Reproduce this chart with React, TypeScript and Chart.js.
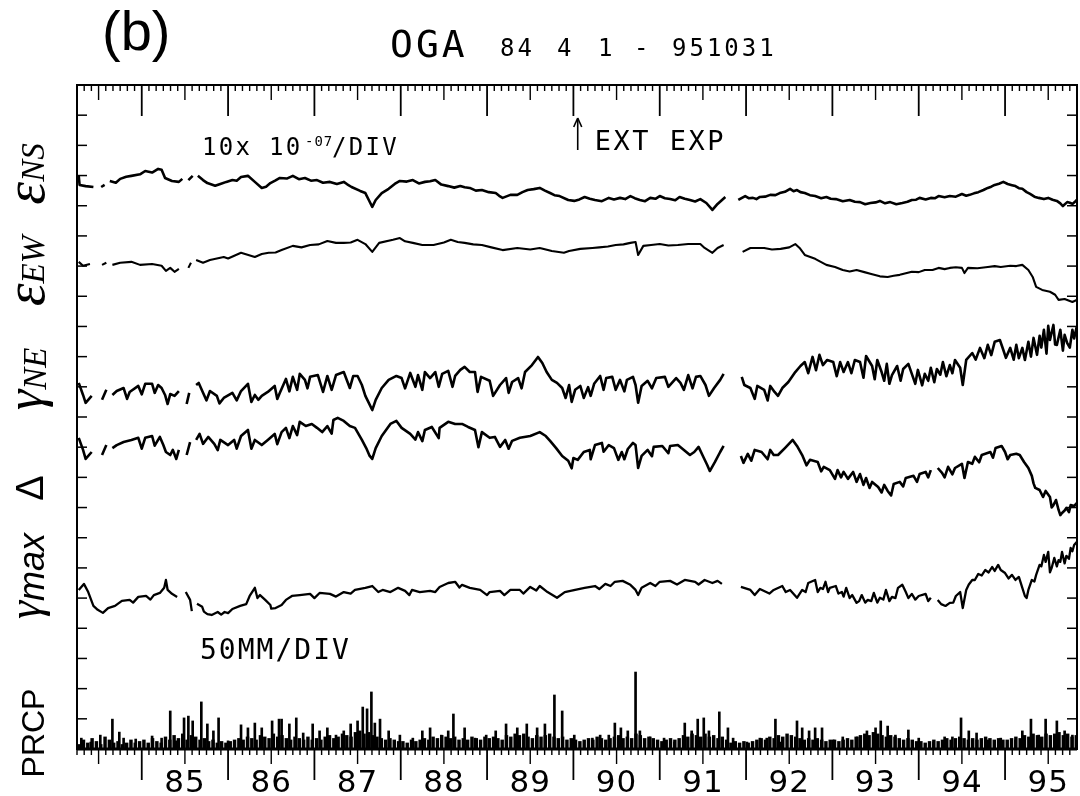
import React, { useEffect, useRef } from 'react';
import { Chart, registerables } from 'chart.js';

Chart.register(...registerables);

type P = [number, number | null];

// Time axis: 1984-04-01 .. 1995-10-31 (decimal years)
const X_START = 1984.25;
const X_END = 1995.8333;
// Vertical axis: 22 divisions
const DIV_COUNT = 22;

const yearLabels = ['85', '86', '87', '88', '89', '90', '91', '92', '93', '94', '95'];

const titleStation = 'OGA';
const titleParts = ['84', '4', '1', '-', '951031'];
const strainScaleLabel = ['10x 10', '-07', '/DIV'];
const rainScaleLabel = '50MM/DIV';
const eventLabel = 'EXT EXP';
const eventYear = 1990.05;

// eps_NS (divisions)
const epsNS: P[] = [
  [1984.27, 18.99], [1984.28, 18.69], [1984.35, 18.65], [1984.44, 18.62], [1984.48, null],
  [1984.53, 18.62], [1984.57, 18.69], [1984.6, null],
  [1984.63, 18.82], [1984.75, 18.89], [1984.88, 18.99], [1985.04, 19.15], [1985.19, 19.22], [1985.23, 19.19],
  [1985.27, 18.92], [1985.35, 18.82], [1985.43, 18.79], [1985.47, 18.89], [1985.5, null],
  [1985.54, 18.85], [1985.59, 18.99], [1985.62, null],
  [1985.65, 18.99], [1985.71, 18.85], [1985.76, 18.75], [1985.91, 18.72], [1986.05, 18.85], [1986.15, 18.95],
  [1986.23, 18.99], [1986.31, 18.79], [1986.39, 18.59], [1986.49, 18.75], [1986.6, 18.92], [1986.75, 18.99],
  [1986.89, 18.92], [1987.03, 18.85], [1987.18, 18.79], [1987.34, 18.79], [1987.43, 18.62], [1987.53, 18.49],
  [1987.59, 18.42], [1987.63, 18.19], [1987.67, 17.96], [1987.71, 18.19], [1987.78, 18.42], [1987.86, 18.56],
  [1987.93, 18.72], [1987.99, 18.82], [1988.14, 18.85], [1988.28, 18.79], [1988.4, 18.85], [1988.55, 18.65],
  [1988.69, 18.65], [1988.8, 18.59], [1988.94, 18.52], [1989.1, 18.42], [1989.18, 18.26], [1989.27, 18.36],
  [1989.35, 18.36], [1989.47, 18.52], [1989.61, 18.59], [1989.73, 18.42], [1989.84, 18.32], [1989.94, 18.19],
  [1990.01, 18.16], [1990.13, 18.29], [1990.25, 18.19], [1990.41, 18.26], [1990.54, 18.26], [1990.66, 18.32],
  [1990.77, 18.19], [1990.89, 18.26], [1991.0, 18.32], [1991.12, 18.22], [1991.23, 18.29], [1991.35, 18.19],
  [1991.47, 18.22], [1991.54, 18.09], [1991.61, 17.86], [1991.67, 18.06], [1991.76, 18.29], [1991.83, null],
  [1991.91, 18.19], [1991.99, 18.32], [1992.08, 18.26], [1992.16, 18.29], [1992.28, 18.36], [1992.39, 18.42],
  [1992.51, 18.56], [1992.59, 18.52], [1992.68, 18.42], [1992.8, 18.32], [1992.93, 18.29], [1993.04, 18.22],
  [1993.2, 18.19], [1993.32, 18.12], [1993.44, 18.09], [1993.55, 18.16], [1993.67, 18.12], [1993.81, 18.09],
  [1993.92, 18.19], [1994.01, 18.26], [1994.14, 18.26], [1994.23, 18.32], [1994.36, 18.32], [1994.5, 18.39],
  [1994.59, 18.36], [1994.69, 18.45], [1994.8, 18.59], [1994.88, 18.69], [1994.98, 18.79], [1995.03, 18.72],
  [1995.12, 18.65], [1995.2, 18.56], [1995.29, 18.39], [1995.39, 18.26], [1995.5, 18.26], [1995.6, 18.16],
  [1995.67, 17.99], [1995.72, 18.12], [1995.78, 18.06], [1995.83, 18.19],
];
// eps_NS small-scale wiggles between the main readings
const epsNSDetail: P[] = [
  [1984.7, 18.76], [1984.82, 18.96], [1984.98, 19.04], [1985.12, 19.1], [1985.85, 18.66], [1985.98, 18.79],
  [1986.1, 18.83], [1986.44, 18.63], [1986.55, 18.84], [1986.68, 18.9], [1986.82, 18.88], [1986.96, 18.83],
  [1987.1, 18.76], [1987.26, 18.72], [1987.38, 18.71], [1988.07, 18.8], [1988.21, 18.74], [1988.34, 18.81],
  [1988.47, 18.7], [1988.62, 18.6], [1988.74, 18.61], [1988.87, 18.5], [1989.02, 18.45], [1989.14, 18.33],
  [1989.41, 18.45], [1989.54, 18.55], [1989.67, 18.5], [1989.78, 18.35], [1990.07, 18.21], [1990.19, 18.23],
  [1990.33, 18.15], [1990.47, 18.21], [1990.6, 18.22], [1990.71, 18.25], [1990.83, 18.15], [1990.95, 18.23],
  [1991.06, 18.25], [1991.18, 18.18], [1991.29, 18.23], [1991.41, 18.14], [1992.03, 18.25], [1992.12, 18.22],
  [1992.22, 18.3], [1992.34, 18.35], [1992.45, 18.46], [1992.55, 18.48], [1992.63, 18.45], [1992.74, 18.35],
  [1992.87, 18.25], [1992.98, 18.23], [1993.12, 18.15], [1993.26, 18.13], [1993.38, 18.05], [1993.5, 18.11],
  [1993.61, 18.08], [1993.74, 18.05], [1993.87, 18.13], [1993.97, 18.2], [1994.08, 18.21], [1994.19, 18.25],
  [1994.3, 18.28], [1994.43, 18.3], [1994.55, 18.33], [1994.64, 18.41], [1994.75, 18.52], [1994.84, 18.63],
  [1994.93, 18.73], [1995.08, 18.68], [1995.16, 18.58], [1995.25, 18.45], [1995.34, 18.3], [1995.45, 18.22],
  [1995.55, 18.2], [1995.64, 18.08], [1995.75, 18.1], [1995.81, 18.13],
];

// eps_EW (divisions)
const epsEW: P[] = [
  [1984.27, 16.14], [1984.32, 16.01], [1984.4, 16.07], [1984.45, null],
  [1984.54, 16.04], [1984.59, 16.11], [1984.61, null],
  [1984.66, 16.04], [1984.75, 16.11], [1984.88, 16.14], [1984.98, 16.04], [1985.12, 16.07], [1985.23, 16.01],
  [1985.28, 15.84], [1985.33, 15.94], [1985.38, 15.81], [1985.43, 15.91], [1985.47, null],
  [1985.54, 15.94], [1985.57, 16.11], [1985.6, null],
  [1985.63, 16.2], [1985.71, 16.11], [1985.79, 16.2], [1985.95, 16.3], [1986.15, 16.44], [1986.31, 16.3],
  [1986.39, 16.4], [1986.47, 16.44], [1986.62, 16.53], [1986.75, 16.67], [1986.95, 16.7], [1987.15, 16.83],
  [1987.25, 16.77], [1987.34, 16.77], [1987.5, 16.87], [1987.59, 16.73], [1987.67, 16.47], [1987.75, 16.77],
  [1987.91, 16.87], [1987.99, 16.93], [1988.14, 16.77], [1988.38, 16.7], [1988.58, 16.87], [1988.74, 16.77],
  [1988.94, 16.7], [1989.18, 16.53], [1989.35, 16.6], [1989.61, 16.6], [1989.75, 16.5], [1989.89, 16.44],
  [1990.08, 16.57], [1990.22, 16.6], [1990.49, 16.7], [1990.66, 16.77], [1990.72, 16.8], [1990.75, 16.37],
  [1990.81, 16.67], [1991.0, 16.73], [1991.21, 16.7], [1991.47, 16.73], [1991.52, 16.6], [1991.61, 16.44],
  [1991.67, 16.6], [1991.74, 16.7], [1991.83, null],
  [1991.96, 16.47], [1992.05, 16.6], [1992.21, 16.6], [1992.4, 16.57], [1992.57, 16.73], [1992.62, 16.6],
  [1992.68, 16.37], [1992.8, 16.24], [1992.93, 16.04], [1993.03, 15.97], [1993.12, 15.87], [1993.28, 15.87],
  [1993.45, 15.74], [1993.64, 15.64], [1993.78, 15.71], [1993.92, 15.81], [1994.07, 15.87], [1994.16, 15.87],
  [1994.23, 15.94], [1994.36, 15.94], [1994.5, 15.94], [1994.53, 15.77], [1994.57, 15.94], [1994.8, 15.97],
  [1994.95, 15.97], [1995.06, 16.01], [1995.2, 16.04], [1995.27, 15.87], [1995.32, 15.64], [1995.36, 15.31],
  [1995.43, 15.21], [1995.52, 15.15], [1995.58, 15.05], [1995.62, 14.88], [1995.69, 14.91], [1995.78, 14.81],
  [1995.83, 14.88],
];
const epsEWDetail: P[] = [
  [1986.0, 16.25], [1986.55, 16.45], [1986.85, 16.62], [1987.05, 16.72], [1987.42, 16.78], [1988.05, 16.82],
  [1988.25, 16.7], [1988.5, 16.78], [1988.66, 16.8], [1988.84, 16.72], [1989.05, 16.62], [1989.5, 16.55],
  [1989.95, 16.5], [1990.3, 16.62], [1990.4, 16.65], [1990.58, 16.72], [1990.9, 16.7], [1991.1, 16.68],
  [1991.33, 16.73], [1992.3, 16.55], [1992.5, 16.62], [1993.2, 15.82], [1993.37, 15.8], [1993.55, 15.66],
  [1993.71, 15.68], [1993.85, 15.76], [1994.0, 15.8], [1994.3, 15.9], [1994.43, 15.96], [1994.68, 15.93],
  [1994.88, 16.0], [1995.13, 16.0],
];

// gamma_NE (divisions)
const gammaNE: P[] = [
  [1984.27, 12.13], [1984.32, 11.73], [1984.35, 11.47], [1984.42, 11.7], [1984.46, null],
  [1984.54, 11.57], [1984.59, 11.9], [1984.61, null],
  [1984.66, 11.73], [1984.71, 11.86], [1984.79, 11.96], [1984.86, 11.83], [1984.96, 12.03], [1985.04, 12.1],
  [1985.12, 12.1], [1985.19, 12.06], [1985.23, 11.96], [1985.27, 11.73], [1985.3, 11.43], [1985.33, 11.76],
  [1985.38, 11.7], [1985.43, 11.86], [1985.47, null],
  [1985.52, 11.43], [1985.55, 11.8], [1985.57, null],
  [1985.63, 12.06], [1985.66, 12.13], [1985.71, 11.8], [1985.79, 11.86], [1985.87, 11.7], [1985.95, 11.63],
  [1986.05, 11.8], [1986.15, 11.86], [1986.23, 12.1], [1986.31, 11.73], [1986.35, 11.57], [1986.39, 11.7],
  [1986.46, 11.83], [1986.54, 12.03], [1986.6, 11.8], [1986.67, 12.26], [1986.75, 12.33], [1986.83, 12.43],
  [1986.89, 12.23], [1986.95, 12.33], [1987.04, 12.39], [1987.1, 11.83], [1987.15, 12.36], [1987.25, 12.39],
  [1987.34, 12.49], [1987.41, 11.96], [1987.45, 12.36], [1987.5, 12.36], [1987.55, 12.06], [1987.59, 11.7],
  [1987.63, 11.47], [1987.67, 11.23], [1987.71, 11.57], [1987.78, 11.96], [1987.86, 12.23], [1987.95, 12.36],
  [1988.01, 12.29], [1988.11, 12.46], [1988.2, 12.39], [1988.28, 12.49], [1988.34, 12.29], [1988.4, 12.49],
  [1988.48, 12.43], [1988.55, 12.53], [1988.63, 12.36], [1988.69, 12.56], [1988.74, 12.66], [1988.8, 12.49],
  [1988.86, 12.49], [1988.89, 11.83], [1988.93, 12.33], [1989.03, 12.2], [1989.15, 12.06], [1989.22, 12.29],
  [1989.29, 12.16], [1989.36, 12.29], [1989.44, 12.49], [1989.52, 12.72], [1989.59, 12.99], [1989.64, 12.79],
  [1989.69, 12.49], [1989.75, 12.23], [1989.81, 12.13], [1989.87, 11.96], [1989.91, 11.63], [1989.95, 12.06],
  [1990.02, 11.9], [1990.08, 12.03], [1990.12, 11.63], [1990.17, 11.99], [1990.24, 12.1], [1990.31, 12.36],
  [1990.38, 12.29], [1990.45, 12.33], [1990.49, 11.9], [1990.54, 12.23], [1990.62, 12.23], [1990.69, 12.33],
  [1990.72, 12.06], [1990.75, 11.47], [1990.79, 12.03], [1990.86, 12.2], [1990.96, 12.29], [1991.06, 12.33],
  [1991.19, 12.29], [1991.24, 12.13], [1991.33, 12.39], [1991.42, 12.33], [1991.47, 12.36], [1991.53, 12.06],
  [1991.57, 11.7], [1991.63, 11.96], [1991.7, 12.23], [1991.74, 12.43], [1991.82, null],
  [1991.95, 12.33], [1991.98, 12.06], [1992.05, 11.96], [1992.13, 12.03], [1992.21, 11.9], [1992.28, 12.03],
  [1992.33, 11.83], [1992.37, 11.7], [1992.42, 11.96], [1992.49, 12.16], [1992.57, 12.49], [1992.63, 12.69],
  [1992.68, 12.82], [1992.77, 12.99], [1992.85, 13.06], [1992.89, 12.72], [1992.94, 12.89], [1993.01, 12.82],
  [1993.09, 12.82], [1993.13, 12.49], [1993.18, 12.82], [1993.26, 12.89], [1993.32, 12.82], [1993.39, 13.02],
  [1993.46, 12.69], [1993.52, 12.89], [1993.57, 12.49], [1993.63, 12.76], [1993.69, 12.39], [1993.75, 12.69],
  [1993.82, 12.59], [1993.88, 12.76], [1993.92, 12.43], [1993.99, 12.56], [1994.07, 12.43], [1994.14, 12.63],
  [1994.21, 12.59], [1994.28, 12.82], [1994.36, 12.72], [1994.42, 12.89], [1994.48, 12.63], [1994.51, 12.06],
  [1994.55, 12.89], [1994.62, 13.12], [1994.71, 13.29], [1994.8, 13.39], [1994.88, 13.49], [1994.94, 13.55],
  [1994.98, 13.22], [1995.01, 12.96], [1995.06, 13.29], [1995.13, 13.39], [1995.2, 13.29], [1995.23, 12.89],
  [1995.27, 13.49], [1995.33, 13.62], [1995.37, 13.06], [1995.4, 13.69], [1995.45, 13.89], [1995.5, 14.02],
  [1995.52, 13.55], [1995.56, 14.05], [1995.6, 13.39], [1995.64, 13.89], [1995.69, 13.72], [1995.72, 13.45],
  [1995.78, 13.89], [1995.83, 13.99],
];
// gamma_NE short downward spikes (tips)
const gammaNESpikes: P[] = [
  [1984.83, 11.6], [1985.0, 11.75], [1985.15, 11.8], [1985.75, 11.55], [1985.9, 11.45], [1986.1, 11.55],
  [1986.27, 11.5], [1986.57, 11.6], [1986.71, 11.85], [1986.8, 11.9], [1986.92, 11.95], [1987.2, 11.9],
  [1988.05, 11.95], [1988.17, 12.0], [1988.25, 11.9], [1988.44, 12.0], [1988.6, 12.0], [1989.07, 11.7],
  [1989.25, 11.8], [1989.4, 11.95], [1989.98, 11.5], [1990.2, 11.7], [1990.35, 11.9], [1990.59, 11.85],
  [1990.91, 11.95], [1991.1, 12.0], [1991.28, 11.9], [1991.38, 11.95], [1992.1, 11.6], [1992.25, 11.55],
  [1992.72, 12.45], [1992.81, 12.55], [1993.05, 12.35], [1993.22, 12.45], [1993.36, 12.3], [1993.49, 12.25],
  [1993.6, 12.2], [1993.66, 12.1], [1993.79, 12.2], [1993.96, 12.1], [1994.04, 12.05], [1994.11, 12.2],
  [1994.18, 12.15], [1994.25, 12.4], [1994.32, 12.35], [1994.39, 12.45], [1994.66, 12.9], [1994.76, 12.95],
  [1994.84, 13.05], [1995.1, 12.9], [1995.16, 12.95], [1995.3, 13.0], [1995.42, 13.3], [1995.48, 13.1],
  [1995.58, 13.4], [1995.67, 13.2], [1995.75, 13.3], [1995.8, 13.6],
];

// Delta (divisions)
const delta: P[] = [
  [1984.27, 10.31], [1984.32, 9.91], [1984.35, 9.61], [1984.42, 9.84], [1984.46, null],
  [1984.54, 9.74], [1984.59, 10.07], [1984.61, null],
  [1984.66, 9.97], [1984.71, 10.07], [1984.79, 10.17], [1984.88, 10.24], [1984.96, 10.31], [1985.04, 10.31],
  [1985.12, 10.37], [1985.21, 10.34], [1985.25, 10.07], [1985.28, 9.84], [1985.33, 9.74], [1985.36, 9.91],
  [1985.4, 9.61], [1985.43, 9.91], [1985.47, null],
  [1985.52, 9.74], [1985.56, 10.17], [1985.58, null],
  [1985.63, 10.24], [1985.67, 10.44], [1985.71, 10.11], [1985.77, 10.34], [1985.84, 10.11], [1985.91, 10.24],
  [1986.0, 10.07], [1986.07, 10.24], [1986.15, 10.37], [1986.23, 10.57], [1986.31, 10.24], [1986.39, 10.07],
  [1986.46, 10.24], [1986.54, 10.44], [1986.62, 10.5], [1986.67, 10.64], [1986.75, 10.7], [1986.83, 10.84],
  [1986.9, 10.7], [1986.97, 10.77], [1987.03, 10.64], [1987.09, 10.5], [1987.15, 10.7], [1987.22, 10.9],
  [1987.27, 10.97], [1987.34, 10.87], [1987.41, 10.7], [1987.47, 10.64], [1987.55, 10.24], [1987.6, 9.97],
  [1987.64, 9.71], [1987.67, 9.61], [1987.71, 9.97], [1987.78, 10.37], [1987.88, 10.77], [1987.95, 10.87],
  [1988.01, 10.64], [1988.11, 10.44], [1988.2, 10.5], [1988.28, 10.57], [1988.36, 10.67], [1988.45, 10.64],
  [1988.55, 10.84], [1988.63, 10.77], [1988.71, 10.77], [1988.78, 10.67], [1988.86, 10.57], [1988.94, 10.5],
  [1989.03, 10.31], [1989.09, 10.34], [1989.15, 10.01], [1989.21, 10.24], [1989.29, 10.21], [1989.38, 10.31],
  [1989.5, 10.37], [1989.61, 10.5], [1989.68, 10.37], [1989.73, 10.21], [1989.8, 9.97], [1989.87, 9.71],
  [1989.94, 9.55], [1990.0, 9.64], [1990.05, 9.58], [1990.12, 9.84], [1990.19, 9.91], [1990.25, 10.07],
  [1990.33, 10.14], [1990.41, 10.07], [1990.47, 9.97], [1990.52, 9.58], [1990.56, 9.84], [1990.63, 9.94],
  [1990.69, 10.14], [1990.72, 10.07], [1990.75, 9.31], [1990.79, 9.71], [1990.86, 9.91], [1990.93, 10.01],
  [1991.03, 10.04], [1991.12, 10.04], [1991.21, 10.07], [1991.28, 9.91], [1991.35, 9.74], [1991.4, 9.84],
  [1991.45, 10.01], [1991.5, 9.71], [1991.55, 9.41], [1991.58, 9.21], [1991.64, 9.51], [1991.7, 9.84],
  [1991.74, 10.04], [1991.82, null],
  [1991.94, 9.71], [1991.97, 9.48], [1992.02, 9.78], [1992.1, 9.91], [1992.18, 9.84], [1992.28, 9.91],
  [1992.32, 9.74], [1992.37, 9.74], [1992.45, 9.97], [1992.54, 10.24], [1992.59, 10.04], [1992.65, 9.74],
  [1992.74, 9.58], [1992.83, 9.51], [1992.9, 9.35], [1992.97, 9.24], [1993.06, 9.24], [1993.13, 9.18],
  [1993.18, 8.95], [1993.24, 9.18], [1993.32, 9.11], [1993.39, 8.98], [1993.46, 8.85], [1993.53, 8.68],
  [1993.6, 8.75], [1993.64, 8.55], [1993.71, 8.78], [1993.78, 8.85], [1993.85, 8.98], [1993.94, 9.05],
  [1994.01, 9.11], [1994.08, 9.18], [1994.14, 9.24], [1994.18, null],
  [1994.22, 9.31], [1994.27, 9.15], [1994.34, 9.35], [1994.42, 9.31], [1994.5, 9.45], [1994.53, 8.98],
  [1994.57, 9.51], [1994.65, 9.68], [1994.73, 9.74], [1994.83, 9.84], [1994.89, 9.97], [1994.96, 10.04],
  [1995.0, 9.84], [1995.06, 9.74], [1995.13, 9.78], [1995.17, 9.74], [1995.22, 9.51], [1995.27, 9.31],
  [1995.31, 9.05], [1995.35, 8.65], [1995.4, 8.58], [1995.47, 8.55], [1995.52, 8.35], [1995.56, 8.08],
  [1995.59, 8.25], [1995.62, 7.92], [1995.66, 7.82], [1995.71, 7.99], [1995.76, 8.08], [1995.8, 8.05],
  [1995.83, 8.15],
];
const deltaSpikes: P[] = [
  [1985.0, 9.95], [1985.15, 10.05], [1985.88, 9.9], [1986.1, 9.95], [1986.27, 9.95], [1986.57, 10.1],
  [1986.71, 10.3], [1986.8, 10.4], [1987.2, 10.45], [1988.17, 10.25], [1988.25, 10.2], [1988.44, 10.3],
  [1988.9, 10.0], [1989.25, 9.95], [1989.98, 9.3], [1990.2, 9.6], [1990.35, 9.85], [1990.59, 9.6],
  [1990.91, 9.7], [1991.1, 9.8], [1992.06, 9.55], [1992.25, 9.6], [1992.7, 9.4], [1992.87, 9.2],
  [1993.03, 8.95], [1993.1, 9.0], [1993.28, 8.85], [1993.36, 8.75], [1993.43, 8.65], [1993.57, 8.5],
  [1993.68, 8.4], [1993.82, 8.7], [1993.98, 8.85], [1994.11, 9.0], [1994.3, 9.0], [1994.39, 9.1],
  [1994.62, 9.45], [1994.7, 9.5], [1994.86, 9.65], [1995.03, 9.6], [1995.33, 8.8], [1995.44, 8.35],
  [1995.54, 8.0], [1995.64, 7.75], [1995.69, 7.9], [1995.74, 7.85],
];

// gamma_max (divisions)
const gammaMax: P[] = [
  [1984.27, 5.27], [1984.33, 5.47], [1984.38, 5.2], [1984.44, 4.74], [1984.49, 4.61], [1984.55, 4.51],
  [1984.61, 4.67], [1984.69, 4.74], [1984.77, 4.91], [1984.86, 4.94], [1984.96, 5.04], [1985.05, 5.07],
  [1985.14, 5.1], [1985.21, 5.17], [1985.26, 5.34], [1985.28, 5.6], [1985.3, 5.27], [1985.35, 5.14],
  [1985.41, 5.04], [1985.45, null],
  [1985.51, 5.2], [1985.56, 4.94], [1985.58, 4.57], [1985.6, null],
  [1985.64, 4.81], [1985.7, 4.71], [1985.76, 4.47], [1985.81, 4.44], [1985.88, 4.54], [1985.96, 4.54],
  [1986.05, 4.64], [1986.14, 4.74], [1986.21, 4.8], [1986.25, 5.07], [1986.31, 5.34], [1986.37, 5.1],
  [1986.43, 4.94], [1986.49, 4.77], [1986.55, 4.67], [1986.62, 4.77], [1986.67, 4.94], [1986.74, 5.07],
  [1986.83, 5.1], [1986.95, 5.14], [1987.06, 5.17], [1987.18, 5.14], [1987.34, 5.2], [1987.47, 5.27],
  [1987.59, 5.34], [1987.67, 5.4], [1987.74, 5.2], [1987.79, 5.27], [1987.88, 5.2], [1987.97, 5.34],
  [1988.05, 5.24], [1988.13, 5.27], [1988.22, 5.2], [1988.34, 5.24], [1988.45, 5.37], [1988.55, 5.5],
  [1988.63, 5.54], [1988.71, 5.44], [1988.8, 5.34], [1988.92, 5.27], [1989.03, 5.2], [1989.15, 5.24],
  [1989.27, 5.27], [1989.38, 5.27], [1989.5, 5.37], [1989.61, 5.4], [1989.7, 5.2], [1989.81, 5.01],
  [1989.9, 5.2], [1990.02, 5.27], [1990.13, 5.34], [1990.25, 5.4], [1990.37, 5.47], [1990.48, 5.54],
  [1990.57, 5.57], [1990.66, 5.44], [1990.72, 5.27], [1990.75, 5.1], [1990.79, 5.34], [1990.89, 5.5],
  [1991.0, 5.54], [1991.12, 5.57], [1991.29, 5.6], [1991.41, 5.54], [1991.52, 5.6], [1991.61, 5.5],
  [1991.67, 5.57], [1991.72, 5.47], [1991.82, null],
  [1991.94, 5.37], [1992.05, 5.27], [1992.16, 5.3], [1992.32, 5.27], [1992.42, 5.4], [1992.51, 5.27],
  [1992.59, 5.01], [1992.65, 5.27], [1992.72, 5.5], [1992.8, 5.6], [1992.86, 5.34], [1992.92, 5.54],
  [1992.97, 5.34], [1993.04, 5.4], [1993.11, 5.2], [1993.16, 5.34], [1993.23, 5.1], [1993.28, 4.84],
  [1993.34, 5.1], [1993.41, 4.94], [1993.48, 5.17], [1993.55, 5.01], [1993.62, 5.27], [1993.69, 5.04],
  [1993.76, 5.34], [1993.81, 5.44], [1993.85, 5.2], [1993.92, 5.14], [1994.0, 5.07], [1994.08, 5.14],
  [1994.14, 5.01], [1994.18, null],
  [1994.22, 4.94], [1994.31, 4.74], [1994.36, 4.84], [1994.43, 5.07], [1994.48, 5.2], [1994.51, 4.67],
  [1994.55, 5.27], [1994.62, 5.6], [1994.69, 5.8], [1994.77, 5.93], [1994.85, 6.03], [1994.92, 6.1],
  [1994.95, 5.93], [1995.0, 5.83], [1995.08, 5.77], [1995.16, 5.7], [1995.2, 5.34], [1995.23, 5.07],
  [1995.27, 5.27], [1995.31, 5.6], [1995.36, 5.77], [1995.4, 6.1], [1995.45, 6.43], [1995.5, 6.53],
  [1995.54, 6.0], [1995.57, 6.33], [1995.62, 6.26], [1995.66, 6.53], [1995.71, 6.4], [1995.76, 6.66],
  [1995.8, 6.76], [1995.83, 6.86],
];
const gammaMaxSpikes: P[] = [
  [1984.9, 4.85], [1985.1, 4.95], [1985.72, 4.55], [1985.92, 4.45], [1986.0, 4.5], [1986.34, 5.0],
  [1986.5, 4.65], [1987.0, 5.0], [1987.25, 5.05], [1987.42, 5.15], [1988.1, 5.1], [1988.4, 5.2],
  [1988.68, 5.35], [1989.0, 5.1], [1989.2, 5.1], [1989.42, 5.15], [1989.57, 5.25], [1990.3, 5.3],
  [1990.43, 5.4], [1990.95, 5.4], [1991.2, 5.45], [1991.45, 5.45], [1992.1, 5.1], [1992.27, 5.15],
  [1992.46, 5.2], [1992.69, 5.2], [1992.83, 5.2], [1992.89, 5.3], [1992.95, 5.2], [1993.07, 5.15],
  [1993.13, 5.05], [1993.2, 5.0], [1993.31, 4.9], [1993.38, 4.85], [1993.45, 4.9], [1993.52, 4.85],
  [1993.59, 4.95], [1993.66, 4.9], [1993.73, 5.0], [1993.88, 5.0], [1993.96, 4.95], [1994.11, 4.9],
  [1994.26, 4.8], [1994.4, 4.85], [1994.58, 5.45], [1994.65, 5.6], [1994.73, 5.75], [1994.81, 5.85],
  [1994.88, 5.9], [1995.04, 5.65], [1995.12, 5.6], [1995.25, 5.0], [1995.34, 5.55], [1995.42, 6.05],
  [1995.47, 6.2], [1995.52, 5.85], [1995.6, 6.05], [1995.64, 6.2], [1995.69, 6.15], [1995.74, 6.3],
  [1995.78, 6.55],
];

// Precipitation: larger rain events (divisions of 50 mm)
const prcpEvents: P[] = [
  [1984.3, 0.36], [1984.41, 0.23], [1984.52, 0.46], [1984.66, 0.99], [1984.74, 0.56], [1984.79, 0.36],
  [1984.93, 0.33], [1985.12, 0.43], [1985.23, 0.36], [1985.33, 1.26], [1985.4, 0.27], [1985.49, 1.03],
  [1985.54, 1.09], [1985.59, 0.93], [1985.69, 1.56], [1985.76, 0.83], [1985.83, 0.6], [1985.89, 1.03],
  [1986.0, 0.27], [1986.15, 0.8], [1986.23, 0.7], [1986.31, 0.86], [1986.39, 0.7], [1986.51, 0.93],
  [1986.59, 0.99], [1986.62, 0.99], [1986.71, 0.83], [1986.79, 1.03], [1986.87, 0.53], [1986.98, 0.83],
  [1987.06, 0.6], [1987.15, 0.7], [1987.25, 0.46], [1987.34, 0.6], [1987.42, 0.83], [1987.5, 0.93],
  [1987.56, 1.39], [1987.61, 1.33], [1987.66, 1.89], [1987.7, 0.86], [1987.76, 0.99], [1987.86, 0.6],
  [1987.99, 0.46], [1988.14, 0.36], [1988.25, 0.6], [1988.34, 0.7], [1988.47, 0.46], [1988.55, 0.6],
  [1988.61, 1.16], [1988.74, 0.7], [1988.86, 0.36], [1988.99, 0.46], [1989.1, 0.6], [1989.22, 0.83],
  [1989.35, 0.7], [1989.46, 0.83], [1989.58, 0.7], [1989.67, 0.83], [1989.78, 1.79], [1989.87, 1.26],
  [1990.01, 0.46], [1990.22, 0.36], [1990.31, 0.46], [1990.41, 0.46], [1990.48, 0.86], [1990.55, 0.7],
  [1990.63, 0.6], [1990.72, 2.55], [1990.77, 0.6], [1990.89, 0.4], [1991.05, 0.36], [1991.17, 0.23],
  [1991.29, 0.86], [1991.37, 0.6], [1991.44, 0.99], [1991.51, 1.03], [1991.57, 0.6], [1991.69, 1.23],
  [1991.79, 0.7], [1991.85, 0.36], [1992.01, 0.23], [1992.16, 0.36], [1992.24, 0.36], [1992.34, 0.99],
  [1992.4, 0.23], [1992.59, 0.93], [1992.65, 0.7], [1992.73, 0.6], [1992.8, 0.7], [1992.88, 0.7],
  [1993.01, 0.3], [1993.12, 0.4], [1993.29, 0.4], [1993.4, 0.6], [1993.5, 0.7], [1993.56, 0.93],
  [1993.64, 0.76], [1993.73, 0.46], [1993.88, 0.63], [1994.0, 0.36], [1994.17, 0.23], [1994.3, 0.4],
  [1994.39, 0.4], [1994.49, 1.03], [1994.58, 0.6], [1994.67, 0.53], [1994.8, 0.3], [1994.95, 0.36],
  [1995.12, 0.3], [1995.2, 0.6], [1995.3, 0.99], [1995.39, 0.46], [1995.47, 0.99], [1995.6, 0.93],
  [1995.69, 0.6], [1995.78, 0.46],
];

// Precipitation: background of small daily totals, one value every 0.05 yr from 1984.275
const prcpBackgroundStart = 1984.275;
const prcpBackgroundStep = 0.05;
const prcpBackground: number[] = [
  0.15, 0.3, 0.2, 0.35, 0.25, 0.15, 0.4, 0.3, 0.2, 0.25, 0.15, 0.2, 0.3, 0.2, 0.25,
  0.3, 0.2, 0.35, 0.25, 0.2, 0.4, 0.3, 0.45, 0.35, 0.5, 0.3, 0.45, 0.4, 0.3, 0.35, 0.25, 0.3, 0.2, 0.25, 0.2,
  0.25, 0.3, 0.35, 0.3, 0.4, 0.35, 0.3, 0.45, 0.4, 0.35, 0.5, 0.4, 0.45, 0.35, 0.3, 0.4, 0.35, 0.3, 0.4, 0.3,
  0.35, 0.3, 0.4, 0.45, 0.35, 0.4, 0.5, 0.45, 0.4, 0.55, 0.6, 0.5, 0.55, 0.45, 0.4, 0.35, 0.3, 0.35, 0.3, 0.25,
  0.25, 0.2, 0.3, 0.25, 0.3, 0.35, 0.3, 0.4, 0.35, 0.45, 0.4, 0.35, 0.4, 0.3, 0.35, 0.3, 0.4, 0.35, 0.3, 0.4,
  0.35, 0.4, 0.35, 0.3, 0.45, 0.4, 0.5, 0.45, 0.5, 0.4, 0.35, 0.45, 0.4, 0.45, 0.5, 0.4, 0.35, 0.4, 0.3, 0.35,
  0.3, 0.25, 0.3, 0.35, 0.3, 0.4, 0.35, 0.3, 0.35, 0.4, 0.45, 0.35, 0.4, 0.35, 0.5, 0.45, 0.35, 0.4, 0.35, 0.3,
  0.25, 0.3, 0.35, 0.3, 0.35, 0.45, 0.4, 0.5, 0.45, 0.4, 0.5, 0.4, 0.45, 0.35, 0.4, 0.3, 0.2, 0.25, 0.2, 0.25,
  0.2, 0.25, 0.3, 0.35, 0.3, 0.4, 0.35, 0.45, 0.4, 0.5, 0.45, 0.4, 0.35, 0.3, 0.35, 0.3, 0.35, 0.3, 0.25, 0.3,
  0.3, 0.25, 0.3, 0.35, 0.3, 0.4, 0.45, 0.5, 0.45, 0.55, 0.5, 0.45, 0.4, 0.45, 0.4, 0.35, 0.3, 0.35, 0.3, 0.25,
  0.25, 0.2, 0.25, 0.3, 0.25, 0.3, 0.35, 0.3, 0.35, 0.4, 0.35, 0.3, 0.35, 0.3, 0.35, 0.4, 0.35, 0.3, 0.35, 0.3,
  0.3, 0.35, 0.4, 0.35, 0.45, 0.4, 0.5, 0.45, 0.4, 0.5, 0.45, 0.5, 0.55, 0.45, 0.5, 0.4, 0.45,
];

const INK = '#000000';
const MONO = '"DejaVu Sans Mono", "Liberation Mono", monospace';
const SERIF = '"Liberation Serif", "DejaVu Serif", serif';
const SANS = '"Liberation Sans", Arial, sans-serif';

function line(ctx: CanvasRenderingContext2D, x1: number, y1: number, x2: number, y2: number) {
  ctx.beginPath();
  ctx.moveTo(x1, y1);
  ctx.lineTo(x2, y2);
  ctx.stroke();
}

function text(ctx: CanvasRenderingContext2D, s: string, x: number, y: number, font: string, spacing = 0, align: CanvasTextAlign = 'left') {
  ctx.font = font;
  (ctx as any).letterSpacing = spacing + 'px';
  ctx.textAlign = align;
  ctx.textBaseline = 'alphabetic';
  ctx.fillText(s, x, y);
  (ctx as any).letterSpacing = '0px';
}

type Part = { t: string; font: string; dy: number };
function rotated(ctx: CanvasRenderingContext2D, parts: Part[], baseX: number, centerY: number) {
  ctx.save();
  ctx.translate(baseX, centerY);
  ctx.rotate(-Math.PI / 2);
  ctx.textAlign = 'left';
  ctx.textBaseline = 'alphabetic';
  let w = 0;
  parts.forEach((p) => { ctx.font = p.font; w += ctx.measureText(p.t).width; });
  let x = -w / 2;
  parts.forEach((p) => {
    ctx.font = p.font;
    ctx.fillText(p.t, x, p.dy);
    x += ctx.measureText(p.t).width;
  });
  ctx.restore();
}

const decorPlugin = {
  id: 'decor',
  beforeDraw(chart: any) {
    const ctx = chart.ctx as CanvasRenderingContext2D;
    ctx.save();
    ctx.fillStyle = '#ffffff';
    ctx.fillRect(0, 0, chart.width, chart.height);
    ctx.restore();
  },
  afterDraw(chart: any) {
    const ctx = chart.ctx as CanvasRenderingContext2D;
    const a = chart.chartArea;
    const xs = chart.scales.x;
    const ys = chart.scales.y;
    ctx.save();
    ctx.strokeStyle = INK;
    ctx.fillStyle = INK;
    ctx.lineCap = 'butt';

    // frame
    ctx.lineWidth = 2;
    ctx.strokeRect(a.left, a.top, a.right - a.left, a.bottom - a.top);
    ctx.lineWidth = 3;
    line(ctx, a.left, a.bottom, a.right, a.bottom);

    // division ticks on both vertical sides (inward)
    ctx.lineWidth = 1.5;
    for (let u = 1; u < DIV_COUNT; u++) {
      const y = ys.getPixelForValue(u);
      line(ctx, a.left, y, a.left + 10, y);
      line(ctx, a.right - 10, y, a.right, y);
    }

    // month ticks: top inward, bottom outward
    for (let m = 0; m <= 12 * 12; m++) {
      const t = 1984 + m / 12;
      if (t < X_START - 1e-6 || t > X_END + 1e-6) continue;
      const x = xs.getPixelForValue(t);
      const mm = m % 12;
      const len = mm === 0 ? 31 : mm === 6 ? 15 : 6;
      ctx.lineWidth = mm === 0 ? 1.8 : 1.4;
      line(ctx, x, a.top, x, a.top + len);
      line(ctx, x, a.bottom, x, a.bottom + len);
    }

    // year labels centred in each year
    yearLabels.forEach((lab) => {
      const x = xs.getPixelForValue(1900 + Number(lab) + 0.5);
      text(ctx, lab, x, 792, `31px "DejaVu Sans", ${SANS}`, 1, 'center');
    });

    // panel label and title
    text(ctx, '(b)', 102, 50, `56px ${SANS}`);
    text(ctx, titleStation, 390, 57, `38px ${MONO}`, 3);
    const titleX = [500, 557, 598, 634, 672];
    titleParts.forEach((s, i) => text(ctx, s, titleX[i], 56, `24px ${MONO}`, 3));

    // scale annotations
    text(ctx, strainScaleLabel[0], 202, 155, `24px ${MONO}`, 2.3);
    text(ctx, strainScaleLabel[1], 305, 146, `14px ${MONO}`, 1);
    text(ctx, strainScaleLabel[2], 332, 155, `24px ${MONO}`, 2.3);
    text(ctx, rainScaleLabel, 200, 659, `28px ${MONO}`, 2);

    // event marker arrow + label
    const ex = xs.getPixelForValue(eventYear);
    ctx.lineWidth = 1.6;
    line(ctx, ex, 150, ex, 119);
    line(ctx, ex - 4, 127, ex, 118);
    line(ctx, ex + 4, 127, ex, 118);
    text(ctx, eventLabel, ex + 17, 150, `27px ${MONO}`, 2.5);

    // left-side series labels (rotated)
    rotated(ctx, [
      { t: 'ε', font: `italic 58px ${SERIF}`, dy: 0 },
      { t: 'NS', font: `italic 33px ${SERIF}`, dy: 0 },
    ], 44, 174);
    rotated(ctx, [
      { t: 'ε', font: `italic 58px ${SERIF}`, dy: 0 },
      { t: 'EW', font: `italic 33px ${SERIF}`, dy: 0 },
    ], 44, 271);
    rotated(ctx, [
      { t: 'γ', font: `italic 52px ${SERIF}`, dy: -4 },
      { t: 'NE', font: `italic 33px ${SERIF}`, dy: 0 },
    ], 46, 379);
    rotated(ctx, [{ t: 'Δ', font: `38px ${SANS}`, dy: 0 }], 43, 488);
    rotated(ctx, [
      { t: 'γ', font: `italic 46px ${SERIF}`, dy: -4 },
      { t: 'max', font: `italic 36px ${SANS}`, dy: 0 },
    ], 44, 576);
    rotated(ctx, [{ t: 'PRCP', font: `32px ${SANS}`, dy: 0 }], 44, 733);

    ctx.restore();
  },
};

function merged(base: P[], extra: P[]): P[] {
  return [...base, ...extra].sort((p, q) => p[0] - q[0]);
}

function lineSet(label: string, arr: P[], width: number) {
  return {
    type: 'line' as const,
    label,
    data: arr.map(([x, y]) => ({ x, y })),
    borderColor: INK,
    borderWidth: width,
    borderJoinStyle: 'round' as const,
    pointRadius: 0,
    tension: 0,
    spanGaps: false,
    fill: false,
  };
}

export default function App() {
  const ref = useRef<HTMLCanvasElement | null>(null);

  useEffect(() => {
    if (!ref.current) return;
    const background = prcpBackground.map((h, i) => ({ x: prcpBackgroundStart + i * prcpBackgroundStep, y: h }));
    const chart = new Chart(ref.current, {
      type: 'line',
      data: {
        datasets: [
          lineSet('εNS', merged(epsNS, epsNSDetail), 2.6),
          lineSet('εEW', merged(epsEW, epsEWDetail), 2.1),
          lineSet('γNE', merged(gammaNE, gammaNESpikes), 2.6),
          lineSet('Δ', merged(delta, deltaSpikes), 2.6),
          lineSet('γmax', merged(gammaMax, gammaMaxSpikes), 2.3),
          {
            type: 'bar' as const,
            label: 'PRCP background',
            data: background,
            backgroundColor: INK,
            borderWidth: 0,
            barThickness: 2.8,
            grouped: false,
          } as any,
          {
            type: 'bar' as const,
            label: 'PRCP',
            data: prcpEvents.map(([x, y]) => ({ x, y })),
            backgroundColor: INK,
            borderWidth: 0,
            barThickness: 2,
            grouped: false,
          } as any,
        ],
      },
      options: {
        animation: false,
        responsive: false,
        events: [],
        layout: { padding: { left: 77, right: 3, top: 85, bottom: 47 } },
        plugins: { legend: { display: false }, tooltip: { enabled: false } },
        scales: {
          x: { type: 'linear', min: X_START, max: X_END, display: false, offset: false },
          y: { type: 'linear', min: 0, max: DIV_COUNT, display: false },
        },
      },
      plugins: [decorPlugin],
    } as any);
    return () => chart.destroy();
  }, []);

  return (
    <div style={{ position: 'absolute', left: 0, top: 0, width: 1080, height: 796, background: '#fff' }}>
      <canvas ref={ref} width={1080} height={796} style={{ display: 'block' }} />
    </div>
  );
}
